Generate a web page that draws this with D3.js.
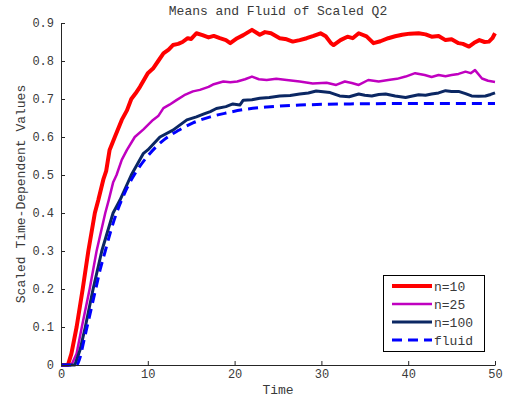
<!DOCTYPE html>
<html>
<head>
<meta charset="utf-8">
<script src="https://cdn.jsdelivr.net/npm/d3@7"></script>
<style>
  html, body { margin: 0; padding: 0; background: #fff; }
  svg { display: block; }
  text { font-family: "Liberation Mono", "Courier New", monospace; fill: #3a3a3a; }
</style>
</head>
<body>
<svg id="chart" width="507" height="398"></svg>
<script>
// ---- data ----
const titleText = "Means and Fluid of Scaled Q2";
const xLabel = "Time";
const yLabel = "Scaled Time-Dependent Values";
const xTicks = [0, 10, 20, 30, 40, 50];
const yTicks = [0, 0.1, 0.2, 0.3, 0.4, 0.5, 0.6, 0.7, 0.8, 0.9];
const yTickLabels = ["0", "0.1", "0.2", "0.3", "0.4", "0.5", "0.6", "0.7", "0.8", "0.9"];
const seriesNames = ["n=10", "n=25", "n=100", "fluid"];

const tN10 = [0, 0.8, 1.2, 1.8, 2.5, 3.15, 3.9, 4.3, 4.9, 5.2, 5.6, 6.2, 7.0, 7.6, 8.1, 8.6, 9.1, 10.0, 10.6, 11.2, 11.8, 12.4, 12.9, 13.5, 14.0, 14.6, 15.0, 15.6, 16.3, 17.0, 17.6, 18.3, 19.0, 19.5, 20.3, 21.0, 22.0, 22.9, 23.5, 24.2, 25.2, 26.0, 26.7, 27.5, 28.3, 29.1, 29.9, 30.5, 31.1, 31.4, 32.2, 33.0, 33.6, 34.3, 35.2, 36.0, 36.8, 37.7, 38.5, 39.3, 40.2, 41.2, 42.0, 42.7, 43.5, 44.3, 45.0, 45.8, 46.3, 47.0, 47.6, 48.2, 48.8, 49.3, 49.7, 50];
const vN10 = [0, 0, 0.03, 0.10, 0.20, 0.30, 0.40, 0.434, 0.49, 0.51, 0.566, 0.60, 0.645, 0.67, 0.70, 0.715, 0.732, 0.768, 0.78, 0.80, 0.82, 0.83, 0.842, 0.845, 0.85, 0.86, 0.858, 0.873, 0.868, 0.862, 0.866, 0.86, 0.855, 0.847, 0.86, 0.868, 0.882, 0.869, 0.876, 0.873, 0.86, 0.857, 0.851, 0.855, 0.86, 0.866, 0.873, 0.865, 0.847, 0.842, 0.855, 0.864, 0.86, 0.873, 0.865, 0.847, 0.852, 0.86, 0.865, 0.869, 0.872, 0.873, 0.87, 0.864, 0.866, 0.855, 0.857, 0.847, 0.845, 0.838, 0.848, 0.855, 0.85, 0.851, 0.86, 0.873];

const tN25 = [0, 1.2, 1.8, 2.4, 3.3, 4.1, 5.1, 5.5, 6.0, 6.4, 7.0, 7.6, 8.5, 9.5, 10.6, 11.2, 11.8, 12.5, 13.3, 14.2, 15.2, 16.0, 17.0, 17.5, 18.7, 19.5, 20.3, 21.2, 22.0, 22.8, 23.7, 24.8, 26.0, 27.5, 29.0, 30.6, 31.7, 32.7, 33.5, 34.3, 35.4, 36.6, 37.7, 38.7, 39.7, 40.8, 41.9, 42.7, 43.5, 44.3, 45.0, 45.8, 46.6, 47.2, 47.7, 48.5, 49.2, 50];
const vN25 = [0, 0, 0.03, 0.10, 0.20, 0.30, 0.40, 0.434, 0.48, 0.50, 0.54, 0.566, 0.60, 0.62, 0.645, 0.655, 0.676, 0.685, 0.697, 0.71, 0.72, 0.724, 0.732, 0.738, 0.746, 0.744, 0.746, 0.752, 0.759, 0.752, 0.75, 0.753, 0.75, 0.746, 0.741, 0.743, 0.737, 0.746, 0.742, 0.737, 0.75, 0.746, 0.75, 0.753, 0.759, 0.768, 0.763, 0.758, 0.763, 0.76, 0.763, 0.766, 0.772, 0.768, 0.776, 0.754, 0.748, 0.745];

const tN100 = [0, 1.6, 2.2, 2.8, 3.7, 4.7, 6.0, 6.8, 8.1, 9.5, 10.0, 11.4, 12.9, 14.5, 15.6, 16.4, 17.2, 17.9, 19.0, 19.8, 20.6, 21.0, 22.0, 22.9, 24.0, 25.2, 26.4, 27.5, 28.5, 29.4, 30.2, 31.0, 32.1, 33.2, 34.3, 35.0, 35.8, 36.6, 37.4, 38.5, 39.7, 40.5, 41.2, 42.0, 42.7, 43.5, 44.3, 45.0, 45.8, 46.6, 47.3, 48.1, 48.9, 49.5, 50];
const vN100 = [0, 0, 0.04, 0.10, 0.20, 0.30, 0.40, 0.434, 0.50, 0.557, 0.566, 0.60, 0.618, 0.645, 0.653, 0.66, 0.667, 0.675, 0.68, 0.687, 0.684, 0.697, 0.698, 0.702, 0.704, 0.708, 0.709, 0.713, 0.716, 0.721, 0.719, 0.717, 0.708, 0.706, 0.713, 0.71, 0.708, 0.712, 0.713, 0.708, 0.704, 0.708, 0.711, 0.71, 0.713, 0.716, 0.722, 0.72, 0.72, 0.714, 0.708, 0.707, 0.708, 0.712, 0.716];

const tFluid = [0, 1.8, 2.2, 2.6, 3.0, 3.5, 4.0, 4.5, 5.1, 5.7, 6.4, 7.0, 7.7, 8.7, 10, 11, 12, 13.5, 15.2, 17.2, 19, 21, 23.7, 27.5, 33, 40, 50];
const vFluid = [0, 0, 0.02, 0.06, 0.10, 0.15, 0.20, 0.25, 0.30, 0.35, 0.40, 0.435, 0.47, 0.51, 0.55, 0.575, 0.595, 0.617, 0.637, 0.653, 0.663, 0.672, 0.679, 0.684, 0.687, 0.688, 0.688];

// ---- layout ----
const svg = d3.select("#chart");
const mLeft = 61, mRight = 495, mTop = 23, mBottom = 365;
const x = d3.scaleLinear().domain([0, 50]).range([mLeft, mRight]);
const y = d3.scaleLinear().domain([0, 0.9]).range([mBottom, mTop]);

const series = [
  { name: seriesNames[0], t: tN10, v: vN10, color: "#ff0000", width: 4, dash: null, smooth: false },
  { name: seriesNames[1], t: tN25, v: vN25, color: "#c000c0", width: 2.5, dash: null, smooth: false },
  { name: seriesNames[2], t: tN100, v: vN100, color: "#0b2763", width: 3, dash: null, smooth: false },
  { name: seriesNames[3], t: tFluid, v: vFluid, color: "#0000ff", width: 3, dash: "10,6", smooth: true }
];

const plot = svg.append("g");
series.forEach(s => {
  const pts = s.t.map((t, i) => [t, s.v[i]]);
  const line = d3.line().x(d => x(d[0])).y(d => y(d[1]))
    .curve(s.smooth ? d3.curveMonotoneX : d3.curveLinear);
  plot.append("path")
    .attr("d", line(pts))
    .attr("fill", "none")
    .attr("stroke", s.color)
    .attr("stroke-width", s.width)
    .attr("stroke-linejoin", "round")
    .attr("stroke-dasharray", s.dash);
});

// axes
const xAxis = d3.axisBottom(x).tickValues(xTicks).tickSizeInner(-4).tickSizeOuter(0).tickPadding(10).tickFormat(d3.format("d"));
const yAxis = d3.axisLeft(y).tickValues(yTicks).tickSizeInner(-4).tickSizeOuter(0).tickPadding(10).tickFormat((d, i) => yTickLabels[i]);
const gx = svg.append("g").attr("transform", `translate(0,${mBottom})`).call(xAxis);
const gy = svg.append("g").attr("transform", `translate(${mLeft},0)`).call(yAxis);
[gx, gy].forEach(g => {
  g.select(".domain").attr("stroke", "#262626").attr("stroke-width", 1);
  g.selectAll(".tick line").attr("stroke", "#262626");
  g.selectAll(".tick text").style("font-family", "'Liberation Mono', monospace").style("font-size", "12px").attr("fill", "#3a3a3a");
});
gx.selectAll(".tick text").attr("y", 4).attr("dy", "0.71em");
gy.selectAll(".tick text").attr("x", -7);

// title and labels
svg.append("text").attr("x", 278).attr("y", 15).attr("text-anchor", "middle")
  .style("font-size", "13px").text(titleText);
svg.append("text").attr("x", 278).attr("y", 394).attr("text-anchor", "middle")
  .style("font-size", "13px").text(xLabel);
svg.append("text").attr("transform", "translate(25,194) rotate(-90)").attr("text-anchor", "middle")
  .style("font-size", "13px").text(yLabel);

// legend
const lg = svg.append("g");
lg.append("rect").attr("x", 383.5).attr("y", 275.5).attr("width", 101).attr("height", 76)
  .attr("fill", "#fff").attr("stroke", "#000").attr("stroke-width", 1);
const rowY = [286, 304, 322, 340];
series.forEach((s, i) => {
  lg.append("line").attr("x1", 392).attr("x2", 432).attr("y1", rowY[i]).attr("y2", rowY[i])
    .attr("stroke", s.color).attr("stroke-width", s.width).attr("stroke-dasharray", s.dash);
  lg.append("text").attr("x", 434).attr("y", rowY[i]).attr("dy", "0.35em")
    .style("font-size", "13px").text(s.name);
});
</script>
</body>
</html>
